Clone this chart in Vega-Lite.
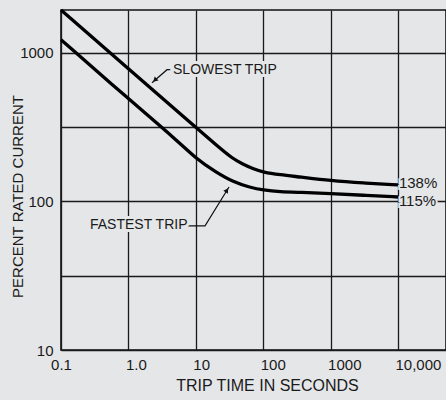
{
  "$schema": "https://vega.github.io/schema/vega-lite/v6.json",
  "width": 385,
  "height": 340,
  "autosize": {"type": "none"},
  "padding": {"left": 61, "top": 10, "right": 0, "bottom": 50},
  "background": "#e5e6e8",
  "config": {
    "view": {"stroke": "#111", "strokeWidth": 1.6, "fill": "#e5e6e8"},
    "font": "Liberation Sans",
    "axis": {
      "grid": true, "gridColor": "#1a1a1a", "gridWidth": 1.3, "gridOpacity": 1,
      "domain": false, "ticks": false, "labelFlush": false, "labelOverlap": false,
      "labelFont": "Liberation Sans", "labelFontSize": 15, "labelColor": "#1a1a1a",
      "titleFont": "Liberation Sans", "titleFontSize": 15, "titleFontWeight": "normal", "titleColor": "#1a1a1a"
    }
  },
  "layer": [
    {
      "data": {"values": [
        {"t": 0.1, "pct": 1940, "series": "slowest"},
        {"t": 1, "pct": 782, "series": "slowest"},
        {"t": 10, "pct": 315, "series": "slowest"},
        {"t": 20, "pct": 240, "series": "slowest"},
        {"t": 35, "pct": 194, "series": "slowest"},
        {"t": 50, "pct": 178, "series": "slowest"},
        {"t": 70, "pct": 166, "series": "slowest"},
        {"t": 100, "pct": 157, "series": "slowest"},
        {"t": 177, "pct": 151, "series": "slowest"},
        {"t": 350, "pct": 146, "series": "slowest"},
        {"t": 1000, "pct": 138, "series": "slowest"},
        {"t": 3000, "pct": 133, "series": "slowest"},
        {"t": 10000, "pct": 129, "series": "slowest"},
        {"t": 0.1, "pct": 1225, "series": "fastest"},
        {"t": 1, "pct": 490, "series": "fastest"},
        {"t": 5.2, "pct": 259, "series": "fastest"},
        {"t": 10, "pct": 194, "series": "fastest"},
        {"t": 20, "pct": 157, "series": "fastest"},
        {"t": 36, "pct": 135, "series": "fastest"},
        {"t": 64, "pct": 124, "series": "fastest"},
        {"t": 100, "pct": 119, "series": "fastest"},
        {"t": 177, "pct": 116, "series": "fastest"},
        {"t": 350, "pct": 115, "series": "fastest"},
        {"t": 1000, "pct": 113, "series": "fastest"},
        {"t": 3000, "pct": 110, "series": "fastest"},
        {"t": 10000, "pct": 107, "series": "fastest"}
      ]},
      "mark": {"type": "line", "color": "#000", "strokeWidth": 3.3, "interpolate": "basis"},
      "encoding": {
        "x": {
          "field": "t", "type": "quantitative",
          "scale": {"type": "log", "domain": [0.1, 51500], "nice": false},
          "axis": {
            "values": [0.1, 1, 10, 100, 1000, 10000],
            "labelExpr": "datum.value < 0.5 ? '0.1' : datum.value < 5 ? '1.0' : datum.value > 5000 ? '10,000' : format(datum.value, 'd')",
            "labelAlign": {"condition": {"test": "datum.value < 0.5", "value": "center"}, "value": "left"},
            "labelOffset": {"condition": {"test": "datum.value < 0.5", "value": 0}, "value": -3},
            "labelPadding": 7,
            "title": "TRIP TIME IN SECONDS",
            "titleFontSize": 16,
            "titlePadding": 5,
            "titleX": 206
          }
        },
        "y": {
          "field": "pct", "type": "quantitative",
          "scale": {"type": "log", "domain": [10, 1940], "nice": false},
          "axis": {
            "values": [10, 31.6228, 100, 316.228, 1000],
            "labelExpr": "datum.value == 10 || datum.value == 100 || datum.value == 1000 ? format(datum.value, 'd') : ''",
            "labelPadding": 8,
            "title": "PERCENT RATED CURRENT",
            "titleX": -44,
            "titleY": 186,
            "titleAngle": 270,
            "titleAlign": "center",
            "titleBaseline": "middle"
          }
        },
        "detail": {"field": "series"}
      }
    },
    {
      "data": {"values": [
        {"t": 4.59, "pct": 769, "seq": 1, "leader": "slowest"},
        {"t": 3.74, "pct": 769, "seq": 2, "leader": "slowest"},
        {"t": 2.24, "pct": 628, "seq": 3, "leader": "slowest"},
        {"t": 7.66, "pct": 68.4, "seq": 1, "leader": "fastest"},
        {"t": 13.7, "pct": 68.4, "seq": 2, "leader": "fastest"},
        {"t": 31.1, "pct": 125, "seq": 3, "leader": "fastest"}
      ]},
      "mark": {"type": "line", "color": "#111", "strokeWidth": 1.2},
      "encoding": {
        "x": {"field": "t", "type": "quantitative"},
        "y": {"field": "pct", "type": "quantitative"},
        "detail": {"field": "leader"},
        "order": {"field": "seq"}
      }
    },
    {
      "data": {"values": [{"t": 2.47, "pct": 655}]},
      "mark": {"type": "point", "shape": "triangle-up", "filled": true, "color": "#111", "size": 30, "angle": 227, "opacity": 1},
      "encoding": {
        "x": {"field": "t", "type": "quantitative"},
        "y": {"field": "pct", "type": "quantitative"}
      }
    },
    {
      "data": {"values": [{"t": 28.9, "pct": 118.8}]},
      "mark": {"type": "point", "shape": "triangle-up", "filled": true, "color": "#111", "size": 30, "angle": 32, "opacity": 1},
      "encoding": {
        "x": {"field": "t", "type": "quantitative"},
        "y": {"field": "pct", "type": "quantitative"}
      }
    },
    {
      "data": {"values": [
        {"t": 4.59, "pct": 769, "label": "SLOWEST TRIP"},
        {"t": 0.269, "pct": 69.5, "label": "FASTEST TRIP"}
      ]},
      "encoding": {
        "x": {"field": "t", "type": "quantitative"},
        "y": {"field": "pct", "type": "quantitative"},
        "text": {"field": "label"}
      },
      "layer": [
        {"mark": {"type": "text", "align": "left", "baseline": "middle", "fontSize": 14, "font": "Liberation Sans", "stroke": "#e5e6e8", "strokeWidth": 6, "fill": "#e5e6e8"}},
        {"mark": {"type": "text", "align": "left", "baseline": "middle", "fontSize": 14, "font": "Liberation Sans", "color": "#1a1a1a"}}
      ]
    },
    {
      "data": {"values": [
        {"t": 10300, "pct": 133, "label": "138%"},
        {"t": 10300, "pct": 101.2, "label": "115%"}
      ]},
      "encoding": {
        "x": {"field": "t", "type": "quantitative"},
        "y": {"field": "pct", "type": "quantitative"},
        "text": {"field": "label"}
      },
      "layer": [
        {"mark": {"type": "text", "align": "left", "baseline": "middle", "fontSize": 15, "font": "Liberation Sans", "stroke": "#e5e6e8", "strokeWidth": 4, "fill": "#e5e6e8"}},
        {"mark": {"type": "text", "align": "left", "baseline": "middle", "fontSize": 15, "font": "Liberation Sans", "color": "#1a1a1a"}}
      ]
    }
  ]
}
